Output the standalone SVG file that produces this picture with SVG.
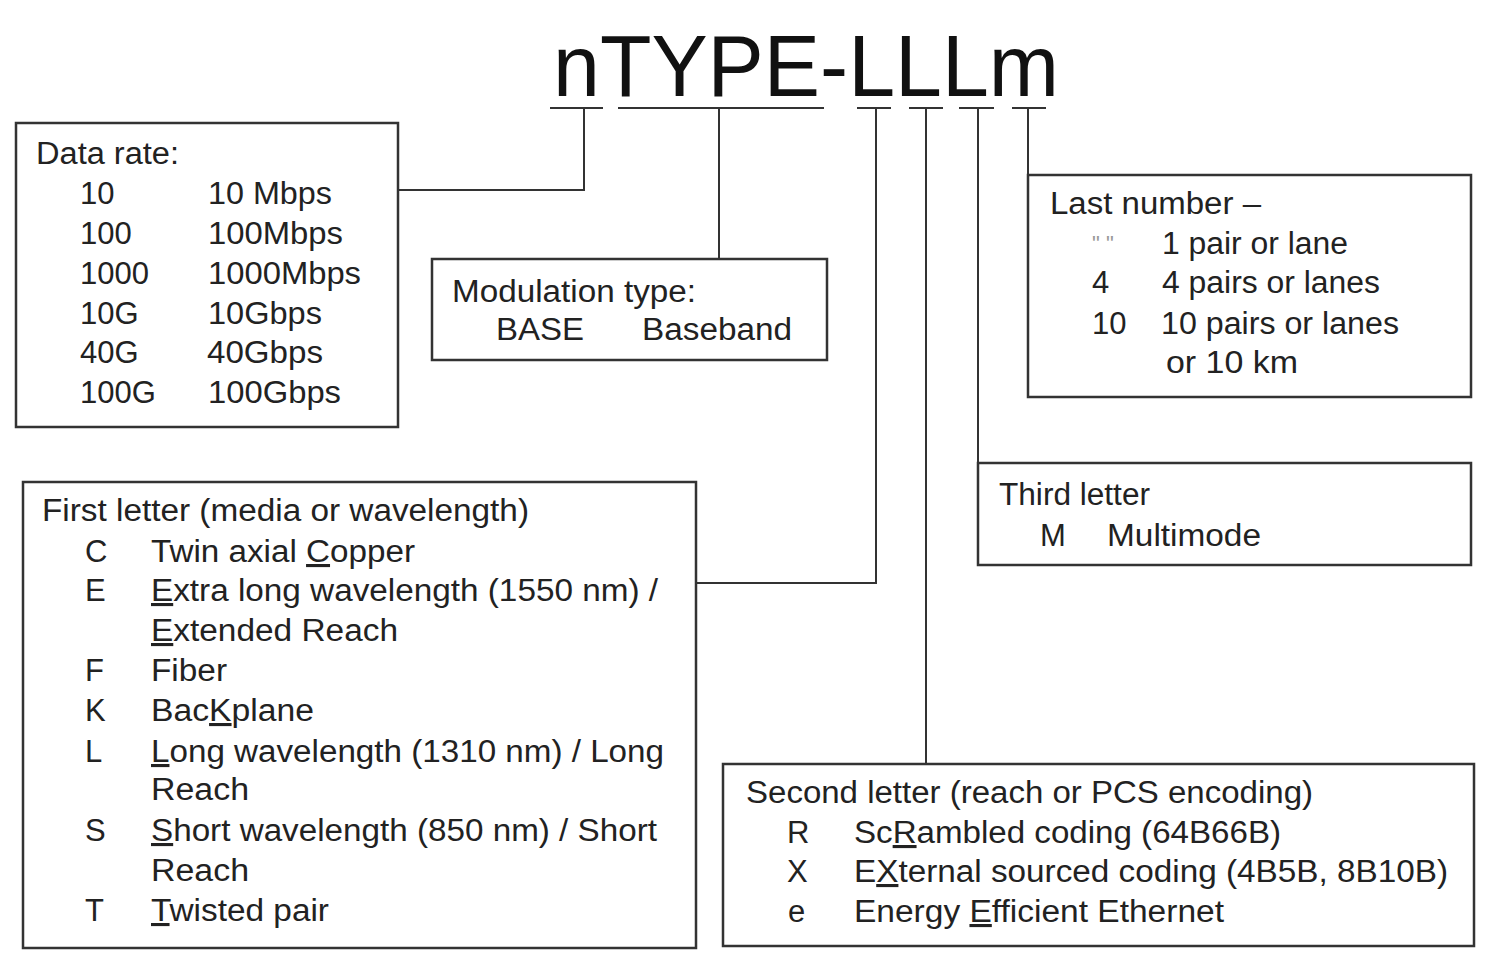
<svg xmlns="http://www.w3.org/2000/svg" width="1496" height="962" viewBox="0 0 1496 962">
<style>
  text { font-family: "Liberation Sans", Arial, sans-serif; fill: #222; }
  .t { font-size: 31px; }
  .title { font-size: 88px; fill: #111; }
  .box { fill: #fff; stroke: #333; stroke-width: 2.5; }
  .ln { fill: none; stroke: #333; stroke-width: 2; }
  .u { text-decoration: underline; }
  .q { font-size: 22px; fill: #999; }
</style>
<rect width="1496" height="962" fill="#fff"/>

<g id="title">
  <text class="title" x="553" y="96" textLength="506" lengthAdjust="spacingAndGlyphs">nTYPE-LLLm</text>
</g>

<g id="connectors">
  <line class="ln" x1="550" y1="108" x2="603" y2="108"/>
  <line class="ln" x1="618" y1="108" x2="824" y2="108"/>
  <line class="ln" x1="857" y1="108" x2="891" y2="108"/>
  <line class="ln" x1="909" y1="108" x2="943" y2="108"/>
  <line class="ln" x1="959" y1="108" x2="994" y2="108"/>
  <line class="ln" x1="1012" y1="108" x2="1046" y2="108"/>
  <polyline class="ln" points="584,108 584,190 398,190"/>
  <polyline class="ln" points="719,108 719,259"/>
  <polyline class="ln" points="876,108 876,583 696,583"/>
  <polyline class="ln" points="926,108 926,764"/>
  <polyline class="ln" points="978,108 978,463"/>
  <polyline class="ln" points="1028,108 1028,175"/>
</g>

<g id="data-rate">
  <rect class="box" x="16" y="123" width="382" height="304"/>
  <text class="t" x="36" y="164" textLength="143" lengthAdjust="spacingAndGlyphs">Data rate:</text>
  <text class="t" x="80" y="204">10</text>
  <text class="t" x="208" y="204" textLength="124" lengthAdjust="spacingAndGlyphs">10 Mbps</text>
  <text class="t" x="80" y="244">100</text>
  <text class="t" x="208" y="244" textLength="135" lengthAdjust="spacingAndGlyphs">100Mbps</text>
  <text class="t" x="80" y="284">1000</text>
  <text class="t" x="208" y="284" textLength="153" lengthAdjust="spacingAndGlyphs">1000Mbps</text>
  <text class="t" x="80" y="324">10G</text>
  <text class="t" x="208" y="324" textLength="114" lengthAdjust="spacingAndGlyphs">10Gbps</text>
  <text class="t" x="80" y="363">40G</text>
  <text class="t" x="207" y="363" textLength="116" lengthAdjust="spacingAndGlyphs">40Gbps</text>
  <text class="t" x="80" y="403">100G</text>
  <text class="t" x="208" y="403" textLength="133" lengthAdjust="spacingAndGlyphs">100Gbps</text>
</g>

<g id="modulation">
  <rect class="box" x="432" y="259" width="395" height="101"/>
  <text class="t" x="452" y="302" textLength="244" lengthAdjust="spacingAndGlyphs">Modulation type:</text>
  <text class="t" x="496" y="340" textLength="88" lengthAdjust="spacingAndGlyphs">BASE</text>
  <text class="t" x="642" y="340" textLength="150" lengthAdjust="spacingAndGlyphs">Baseband</text>
</g>

<g id="last-number">
  <rect class="box" x="1028" y="175" width="443" height="222"/>
  <text class="t" x="1050" y="214" textLength="211" lengthAdjust="spacingAndGlyphs">Last number –</text>
  <text class="q" x="1092" y="251">" "</text>
  <text class="t" x="1162" y="254" textLength="186" lengthAdjust="spacingAndGlyphs">1 pair or lane</text>
  <text class="t" x="1092" y="293">4</text>
  <text class="t" x="1162" y="293" textLength="218" lengthAdjust="spacingAndGlyphs">4 pairs or lanes</text>
  <text class="t" x="1092" y="334">10</text>
  <text class="t" x="1161" y="334" textLength="238" lengthAdjust="spacingAndGlyphs">10 pairs or lanes</text>
  <text class="t" x="1166" y="373" textLength="132" lengthAdjust="spacingAndGlyphs">or 10 km</text>
</g>

<g id="third-letter">
  <rect class="box" x="978" y="463" width="493" height="102"/>
  <text class="t" x="999" y="505" textLength="151" lengthAdjust="spacingAndGlyphs">Third letter</text>
  <text class="t" x="1040" y="546">M</text>
  <text class="t" x="1107" y="546" textLength="154" lengthAdjust="spacingAndGlyphs">Multimode</text>
</g>

<g id="first-letter">
  <rect class="box" x="23" y="482" width="673" height="466"/>
  <text class="t" x="42" y="521" textLength="487" lengthAdjust="spacingAndGlyphs">First letter (media or wavelength)</text>
  <text class="t" x="85" y="562">C</text>
  <text class="t" x="151" y="562" textLength="264" lengthAdjust="spacingAndGlyphs">Twin axial <tspan class="u">C</tspan>opper</text>
  <text class="t" x="85" y="601">E</text>
  <text class="t" x="151" y="601" textLength="507" lengthAdjust="spacingAndGlyphs"><tspan class="u">E</tspan>xtra long wavelength (1550 nm) /</text>
  <text class="t" x="151" y="641" textLength="247" lengthAdjust="spacingAndGlyphs"><tspan class="u">E</tspan>xtended Reach</text>
  <text class="t" x="85" y="681">F</text>
  <text class="t" x="151" y="681" textLength="76" lengthAdjust="spacingAndGlyphs">Fiber</text>
  <text class="t" x="85" y="721">K</text>
  <text class="t" x="151" y="721" textLength="163" lengthAdjust="spacingAndGlyphs">Bac<tspan class="u">K</tspan>plane</text>
  <text class="t" x="85" y="762">L</text>
  <text class="t" x="151" y="762" textLength="513" lengthAdjust="spacingAndGlyphs"><tspan class="u">L</tspan>ong wavelength (1310 nm) / Long</text>
  <text class="t" x="151" y="800" textLength="98" lengthAdjust="spacingAndGlyphs">Reach</text>
  <text class="t" x="85" y="841">S</text>
  <text class="t" x="151" y="841" textLength="506" lengthAdjust="spacingAndGlyphs"><tspan class="u">S</tspan>hort wavelength (850 nm) / Short</text>
  <text class="t" x="151" y="881" textLength="98" lengthAdjust="spacingAndGlyphs">Reach</text>
  <text class="t" x="85" y="921">T</text>
  <text class="t" x="151" y="921" textLength="178" lengthAdjust="spacingAndGlyphs"><tspan class="u">T</tspan>wisted pair</text>
</g>

<g id="second-letter">
  <rect class="box" x="723" y="764" width="751" height="182"/>
  <text class="t" x="746" y="803" textLength="567" lengthAdjust="spacingAndGlyphs">Second letter (reach or PCS encoding)</text>
  <text class="t" x="787" y="843">R</text>
  <text class="t" x="854" y="843" textLength="427" lengthAdjust="spacingAndGlyphs">Sc<tspan class="u">R</tspan>ambled coding (64B66B)</text>
  <text class="t" x="787" y="882">X</text>
  <text class="t" x="854" y="882" textLength="594" lengthAdjust="spacingAndGlyphs">E<tspan class="u">X</tspan>ternal sourced coding (4B5B, 8B10B)</text>
  <text class="t" x="788" y="922">e</text>
  <text class="t" x="854" y="922" textLength="370" lengthAdjust="spacingAndGlyphs">Energy <tspan class="u">E</tspan>fficient Ethernet</text>
</g>
</svg>
